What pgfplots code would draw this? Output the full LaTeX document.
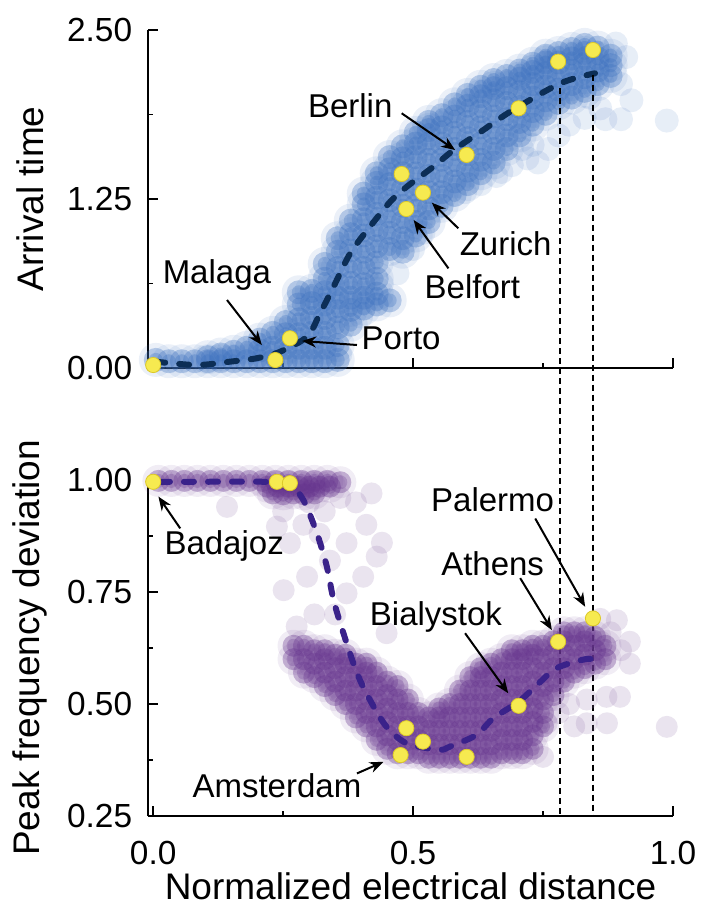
\documentclass[border=0pt]{standalone}
\usepackage{fontspec}
\setmainfont{Liberation Sans}
\usepackage{pgfplots}
\usepackage{pgfplotstable}
\pgfplotsset{compat=1.18}
\usetikzlibrary{arrows.meta}

\definecolor{cloudblue}{RGB}{60,112,190}
\definecolor{meanblue}{RGB}{12,46,86}
\definecolor{cloudpurple}{RGB}{100,50,140}
\definecolor{fadepurple}{RGB}{150,120,175}
\definecolor{meanpurple}{RGB}{58,34,138}
\definecolor{cityfill}{RGB}{246,234,80}
\definecolor{cityedge}{RGB}{220,200,40}

% ---- simulated arrival times (normalized distance, arrival time) ----
\pgfplotstableread[row sep=\\]{x y\\
0.005 0.06\\ 0.03 0.05\\ 0.055 0.05\\ 0.08 0.05\\ 0.105 0.05\\ 0.105 0.08\\
0.13 0.05\\ 0.13 0.10\\ 0.155 0.05\\ 0.155 0.12\\ 0.18 0.05\\ 0.18 0.15\\
0.205 0.05\\ 0.205 0.13\\ 0.205 0.21\\ 0.23 0.05\\ 0.23 0.15\\ 0.23 0.26\\
0.255 0.05\\ 0.255 0.15\\ 0.255 0.25\\ 0.255 0.34\\
0.28 0.05\\ 0.28 0.15\\ 0.28 0.25\\ 0.28 0.36\\ 0.28 0.47\\ 0.28 0.56\\
0.305 0.05\\ 0.305 0.15\\ 0.305 0.26\\ 0.305 0.37\\ 0.305 0.48\\ 0.305 0.57\\
0.33 0.05\\ 0.33 0.15\\ 0.33 0.26\\ 0.33 0.37\\ 0.33 0.47\\ 0.33 0.56\\ 0.33 0.66\\ 0.33 0.77\\
0.355 0.06\\ 0.355 0.17\\ 0.355 0.30\\ 0.355 0.42\\ 0.355 0.52\\ 0.355 0.62\\ 0.355 0.74\\ 0.355 0.86\\ 0.355 0.96\\
0.38 0.32\\ 0.38 0.43\\ 0.38 0.52\\ 0.38 0.63\\ 0.38 0.75\\ 0.38 0.87\\ 0.38 0.99\\ 0.38 1.09\\
0.405 0.44\\ 0.405 0.52\\ 0.405 0.62\\ 0.405 0.74\\ 0.405 0.86\\ 0.405 0.98\\ 0.405 1.10\\ 0.405 1.21\\ 0.405 1.29\\
0.43 0.47\\ 0.43 0.55\\ 0.43 0.66\\ 0.43 0.78\\ 0.43 0.90\\ 0.43 1.02\\ 0.43 1.14\\ 0.43 1.26\\ 0.43 1.37\\ 0.43 1.44\\
0.455 0.50\\ 0.455 0.88\\ 0.455 1.00\\ 0.455 1.12\\ 0.455 1.24\\ 0.455 1.36\\ 0.455 1.47\\ 0.455 1.56\\
0.48 0.86\\ 0.48 0.96\\ 0.48 1.08\\ 0.48 1.20\\ 0.48 1.32\\ 0.48 1.44\\ 0.48 1.55\\ 0.48 1.64\\
0.505 0.98\\ 0.505 1.08\\ 0.505 1.20\\ 0.505 1.32\\ 0.505 1.44\\ 0.505 1.56\\ 0.505 1.66\\ 0.505 1.74\\
0.53 1.08\\ 0.53 1.18\\ 0.53 1.30\\ 0.53 1.42\\ 0.53 1.54\\ 0.53 1.66\\ 0.53 1.76\\ 0.53 1.82\\
0.555 1.20\\ 0.555 1.30\\ 0.555 1.42\\ 0.555 1.54\\ 0.555 1.66\\ 0.555 1.78\\ 0.555 1.87\\
0.58 1.28\\ 0.58 1.38\\ 0.58 1.50\\ 0.58 1.62\\ 0.58 1.74\\ 0.58 1.86\\ 0.58 1.95\\
0.605 1.36\\ 0.605 1.46\\ 0.605 1.58\\ 0.605 1.70\\ 0.605 1.82\\ 0.605 1.94\\ 0.605 2.02\\
0.63 1.44\\ 0.63 1.54\\ 0.63 1.66\\ 0.63 1.78\\ 0.63 1.90\\ 0.63 2.01\\ 0.63 2.08\\
0.655 1.52\\ 0.655 1.62\\ 0.655 1.74\\ 0.655 1.86\\ 0.655 1.98\\ 0.655 2.07\\ 0.655 2.13\\
0.68 1.62\\ 0.68 1.72\\ 0.68 1.84\\ 0.68 1.96\\ 0.68 2.07\\ 0.68 2.16\\
0.705 1.72\\ 0.705 1.82\\ 0.705 1.93\\ 0.705 2.04\\ 0.705 2.14\\ 0.705 2.20\\
0.73 1.80\\ 0.73 1.90\\ 0.73 2.00\\ 0.73 2.10\\ 0.73 2.19\\ 0.73 2.25\\
0.755 1.88\\ 0.755 1.98\\ 0.755 2.08\\ 0.755 2.18\\ 0.755 2.26\\ 0.755 2.31\\
0.78 1.96\\ 0.78 2.06\\ 0.78 2.16\\ 0.78 2.26\\ 0.78 2.33\\
0.805 2.00\\ 0.805 2.10\\ 0.805 2.20\\ 0.805 2.29\\ 0.805 2.36\\
0.83 2.05\\ 0.83 2.15\\ 0.83 2.25\\ 0.83 2.33\\ 0.83 2.39\\
0.855 2.10\\ 0.855 2.20\\ 0.855 2.29\\ 0.855 2.37\\
0.88 2.16\\ 0.88 2.24\\ 0.88 2.31\\
}\arrivalcloud

\pgfplotstableread[row sep=\\]{x y\\
0.60 1.30\\ 0.63 1.36\\ 0.66 1.42\\ 0.69 1.50\\ 0.72 1.55\\ 0.74 1.52\\
0.76 1.62\\ 0.78 1.72\\ 0.80 1.80\\ 0.83 1.85\\ 0.86 1.92\\ 0.87 1.84\\
0.90 1.84\\ 0.92 1.98\\ 0.90 2.10\\ 0.91 2.30\\ 0.89 2.40\\ 0.988 1.83\\
0.71 1.62\\ 0.67 1.45\\ 0.47 0.70\\ 0.44 0.62\\ 0.50 0.88\\ 0.52 1.00\\
0.40 0.38\\ 0.36 0.10\\ 0.73 1.65\\ 0.84 2.00\\
}\arrivalsparse

% ---- simulated peak frequency deviation ----
\pgfplotstableread[row sep=\\]{x y\\
0.01 0.998\\ 0.035 0.998\\ 0.06 0.998\\ 0.085 0.998\\ 0.11 0.998\\ 0.135 0.998\\
0.16 0.998\\ 0.185 0.998\\ 0.21 0.998\\ 0.235 0.998\\ 0.26 0.998\\ 0.285 0.998\\
0.31 0.998\\ 0.335 0.998\\ 0.36 0.995\\
0.22 0.985\\ 0.24 0.985\\ 0.26 0.985\\ 0.28 0.985\\ 0.30 0.985\\ 0.32 0.985\\ 0.34 0.985\\
0.23 0.97\\ 0.25 0.968\\ 0.27 0.97\\ 0.29 0.968\\ 0.31 0.97\\
0.27 0.60\\ 0.27 0.63\\
0.29 0.57\\ 0.29 0.60\\ 0.29 0.63\\
0.31 0.56\\ 0.31 0.59\\ 0.31 0.62\\
0.33 0.54\\ 0.33 0.57\\ 0.33 0.60\\ 0.33 0.62\\
0.35 0.52\\ 0.35 0.55\\ 0.35 0.58\\ 0.35 0.61\\
0.37 0.50\\ 0.37 0.53\\ 0.37 0.56\\ 0.37 0.59\\ 0.37 0.61\\
0.39 0.47\\ 0.39 0.50\\ 0.39 0.53\\ 0.39 0.56\\ 0.39 0.59\\
0.41 0.45\\ 0.41 0.48\\ 0.41 0.51\\ 0.41 0.54\\ 0.41 0.57\\ 0.41 0.59\\
0.43 0.42\\ 0.43 0.45\\ 0.43 0.48\\ 0.43 0.51\\ 0.43 0.54\\ 0.43 0.57\\
0.45 0.40\\ 0.45 0.43\\ 0.45 0.46\\ 0.45 0.49\\ 0.45 0.52\\ 0.45 0.55\\
0.47 0.39\\ 0.47 0.42\\ 0.47 0.45\\ 0.47 0.48\\ 0.47 0.51\\ 0.47 0.54\\
0.49 0.39\\ 0.49 0.42\\ 0.49 0.45\\ 0.49 0.48\\ 0.49 0.51\\
0.51 0.39\\ 0.51 0.42\\ 0.51 0.45\\ 0.51 0.48\\
0.53 0.38\\ 0.53 0.41\\ 0.53 0.44\\ 0.53 0.47\\
0.55 0.38\\ 0.55 0.41\\ 0.55 0.44\\ 0.55 0.47\\ 0.55 0.49\\
0.57 0.38\\ 0.57 0.41\\ 0.57 0.44\\ 0.57 0.47\\ 0.57 0.50\\
0.59 0.38\\ 0.59 0.41\\ 0.59 0.44\\ 0.59 0.47\\ 0.59 0.50\\ 0.59 0.53\\
0.61 0.38\\ 0.61 0.41\\ 0.61 0.44\\ 0.61 0.47\\ 0.61 0.50\\ 0.61 0.53\\ 0.61 0.56\\
0.63 0.38\\ 0.63 0.41\\ 0.63 0.44\\ 0.63 0.47\\ 0.63 0.50\\ 0.63 0.53\\ 0.63 0.56\\ 0.63 0.58\\
0.65 0.38\\ 0.65 0.41\\ 0.65 0.44\\ 0.65 0.47\\ 0.65 0.50\\ 0.65 0.53\\ 0.65 0.56\\ 0.65 0.59\\
0.67 0.39\\ 0.67 0.42\\ 0.67 0.45\\ 0.67 0.48\\ 0.67 0.51\\ 0.67 0.54\\ 0.67 0.57\\ 0.67 0.60\\
0.69 0.39\\ 0.69 0.42\\ 0.69 0.45\\ 0.69 0.48\\ 0.69 0.51\\ 0.69 0.54\\ 0.69 0.57\\ 0.69 0.60\\ 0.69 0.62\\
0.71 0.39\\ 0.71 0.42\\ 0.71 0.45\\ 0.71 0.48\\ 0.71 0.51\\ 0.71 0.54\\ 0.71 0.57\\ 0.71 0.60\\ 0.71 0.62\\
0.73 0.40\\ 0.73 0.43\\ 0.73 0.46\\ 0.73 0.49\\ 0.73 0.52\\ 0.73 0.55\\ 0.73 0.58\\ 0.73 0.61\\ 0.73 0.63\\
0.75 0.45\\ 0.75 0.48\\ 0.75 0.51\\ 0.75 0.54\\ 0.75 0.57\\ 0.75 0.60\\ 0.75 0.63\\
0.77 0.52\\ 0.77 0.55\\ 0.77 0.58\\ 0.77 0.61\\ 0.77 0.64\\
0.79 0.55\\ 0.79 0.58\\ 0.79 0.61\\ 0.79 0.64\\ 0.79 0.66\\
0.81 0.57\\ 0.81 0.60\\ 0.81 0.63\\ 0.81 0.66\\
0.83 0.58\\ 0.83 0.61\\ 0.83 0.64\\ 0.83 0.66\\
0.85 0.59\\ 0.85 0.62\\ 0.85 0.65\\
0.87 0.60\\ 0.87 0.63\\
}\peakcloud

\pgfplotstableread[row sep=\\]{x y\\
0.142 0.94\\ 0.238 0.896\\ 0.25 0.93\\ 0.263 0.859\\ 0.289 0.90\\ 0.296 0.784\\
0.251 0.754\\ 0.276 0.673\\ 0.31 0.70\\ 0.372 0.747\\ 0.404 0.784\\ 0.43 0.829\\
0.44 0.86\\ 0.372 0.859\\ 0.41 0.90\\ 0.449 0.658\\ 0.33 0.93\\ 0.36 0.96\\
0.39 0.95\\ 0.42 0.97\\ 0.34 0.82\\ 0.30 0.95\\ 0.32 0.88\\ 0.35 0.70\\
0.757 0.457\\ 0.834 0.457\\ 0.873 0.457\\ 0.988 0.449\\ 0.872 0.516\\
0.898 0.516\\ 0.834 0.51\\ 0.917 0.639\\ 0.892 0.687\\ 0.86 0.69\\
0.75 0.382\\ 0.917 0.59\\ 0.80 0.50\\ 0.78 0.48\\ 0.81 0.45\\ 0.90 0.62\\
0.88 0.66\\ 0.86 0.64\\
}\peaksparse

\tikzset{
  vline/.style={black, line width=0.9pt, dash pattern=on 3pt off 2pt},
  note/.style={font=\fontsize{16.5}{19.8}\selectfont, inner sep=0pt},
  pointer/.style={-{Stealth[length=7pt,width=5.5pt]}, line width=1pt, black},
}

\pgfplotsset{
  panel/.style={
    scale only axis, width=262.5pt, clip=false, clip marker paths=true,
    xmin=-0.01, xmax=1,
    axis x line*=bottom, axis y line*=left,
    axis line style={line width=0.8pt,-},
    every outer x axis line/.append style={-},
    every outer y axis line/.append style={-},
    tick align=inside,
    major tick length=5pt, minor tick length=2.5pt,
    tick style={line width=0.8pt, black},
    tick label style={font=\fontsize{16.7}{20}\selectfont},
    /pgf/number format/assume math mode=true,
    xtick={0,0.5,1}, minor xtick={0.25,0.75},
    xticklabel style={yshift=-9pt},
    yticklabel style={xshift=-4.4pt, /pgf/number format/fixed,
      /pgf/number format/fixed zerofill, /pgf/number format/precision=2},
    every axis y label/.style={at={(axis description cs:-0.2248,0.5)},
      rotate=90, anchor=center, font=\fontsize{18.5}{22}\selectfont},
    every axis x label/.style={at={(axis description cs:0.5,-0.208)},
      anchor=center, font=\fontsize{18.5}{22}\selectfont},
  },
  cloud/.style n args={3}{only marks, mark=*, mark size=#1,
    mark options={fill=#2, fill opacity=#3, draw opacity=0}},
  mean/.style={smooth, tension=0.5, line width=3pt, line cap=round,
    dash pattern=on 5pt off 7pt},
  city/.style={only marks, mark=*, mark size=3.8pt,
    mark options={fill=cityfill, draw=cityedge, line width=0.4pt}},
}

\begin{document}
\begin{tikzpicture}
\useasboundingbox (0,0) rectangle (352pt,455.5pt);

% ---------------- arrival time ----------------
\begin{axis}[panel, at={(74pt,271.5pt)}, anchor=south west, height=169pt,
  ymin=0, ymax=2.5, ytick={0,1.25,2.5}, minor ytick={0.625,1.875},
  xticklabels={}, ylabel={Arrival time}]

\addplot[cloud={6pt}{cloudblue}{0.12}] table {\arrivalsparse};
% each run drawn as a soft translucent disc
\addplot[cloud={8.5pt}{cloudblue}{0.10}] table {\arrivalcloud};
\addplot[cloud={6pt}{cloudblue}{0.32}] table {\arrivalcloud};
\addplot[cloud={3.5pt}{cloudblue}{0.30}] table {\arrivalcloud};

% mean arrival time
\addplot[mean, meanblue] coordinates {
(0.004,0.047) (0.084,0.022) (0.148,0.047) (0.199,0.072) (0.244,0.12)
(0.296,0.232) (0.321,0.404) (0.347,0.601) (0.379,0.848) (0.417,1.045)
(0.456,1.23) (0.488,1.341) (0.539,1.489) (0.578,1.612) (0.635,1.76)
(0.687,1.896) (0.783,2.105) (0.85,2.18)};

% guides for the two farthest cities, running down through the lower panel
% (y = -3.314 on this scale is the bottom of the lower panel)
\draw[vline] (axis cs:0.783,2.07) -- (axis cs:0.783,-3.314);
\draw[vline] (axis cs:0.8465,2.17) -- (axis cs:0.8465,-3.314);

% highlighted cities
\addplot[city] coordinates {
(0.0,0.022) (0.235,0.059) (0.263,0.22) (0.478,1.435) (0.519,1.297)
(0.487,1.176) (0.603,1.576) (0.703,1.921) (0.779,2.266) (0.846,2.352)};

\node[note] at (axis cs:0.379,1.938) {Berlin};
\draw[pointer] (axis cs:0.478,1.884) -- (axis cs:0.581,1.612);
\node[note] at (axis cs:0.678,0.922) {Zurich};
\draw[pointer] (axis cs:0.587,1.033) -- (axis cs:0.536,1.223);
\node[note] at (axis cs:0.614,0.601) {Belfort};
\draw[pointer] (axis cs:0.568,0.737) -- (axis cs:0.501,1.095);
\node[note] at (axis cs:0.1225,0.688) {Malaga};
\draw[pointer] (axis cs:0.142,0.503) -- (axis cs:0.209,0.170);
\node[note] at (axis cs:0.477,0.222) {Porto};
\draw[pointer] (axis cs:0.392,0.17) -- (axis cs:0.2865,0.20);
\end{axis}

% ---------------- peak frequency deviation ----------------
\begin{axis}[panel, at={(74pt,47.5pt)}, anchor=south west, height=168pt,
  ymin=0.25, ymax=1, ytick={0.25,0.5,0.75,1}, minor ytick={0.375,0.625,0.875},
  xticklabel style={/pgf/number format/fixed,
    /pgf/number format/fixed zerofill, /pgf/number format/precision=1},
  xlabel={Normalized electrical distance},
  ylabel={Peak frequency deviation}]

\addplot[cloud={5.5pt}{fadepurple}{0.2}] table {\peaksparse};
\addplot[cloud={8pt}{cloudpurple}{0.09}] table {\peakcloud};
\addplot[cloud={5.5pt}{cloudpurple}{0.34}] table {\peakcloud};
\addplot[cloud={3.5pt}{cloudpurple}{0.25}] table {\peakcloud};

% mean peak frequency deviation
\addplot[mean, meanpurple] coordinates {
(0.013,0.996) (0.084,0.996) (0.212,0.996) (0.262,0.99) (0.289,0.955)
(0.315,0.881) (0.334,0.807) (0.347,0.732) (0.366,0.658) (0.392,0.569)
(0.417,0.509) (0.449,0.449) (0.488,0.412) (0.55,0.398) (0.571,0.405)
(0.622,0.431) (0.654,0.468) (0.703,0.505) (0.738,0.542) (0.776,0.58)
(0.831,0.6) (0.846,0.599)};

% highlighted cities
\addplot[city] coordinates {
(0.0,0.996) (0.238,0.996) (0.263,0.993) (0.487,0.446) (0.519,0.416)
(0.476,0.386) (0.603,0.382) (0.703,0.496) (0.779,0.639) (0.846,0.691)};

\node[note] at (axis cs:0.1365,0.853) {Badajoz};
\draw[pointer] (axis cs:0.052,0.892) -- (axis cs:0.010,0.963);
\node[note] at (axis cs:0.238,0.318) {Amsterdam};
\draw[pointer] (axis cs:0.392,0.345) -- (axis cs:0.443,0.371);
\node[note] at (axis cs:0.544,0.695) {Bialystok};
\draw[pointer] (axis cs:0.600,0.658) -- (axis cs:0.683,0.524);
\node[note] at (axis cs:0.653,0.814) {Athens};
\draw[pointer] (axis cs:0.706,0.781) -- (axis cs:0.767,0.665);
\node[note] at (axis cs:0.653,0.957) {Palermo};
\draw[pointer] (axis cs:0.735,0.914) -- (axis cs:0.831,0.717);
\end{axis}
\end{tikzpicture}
\end{document}
